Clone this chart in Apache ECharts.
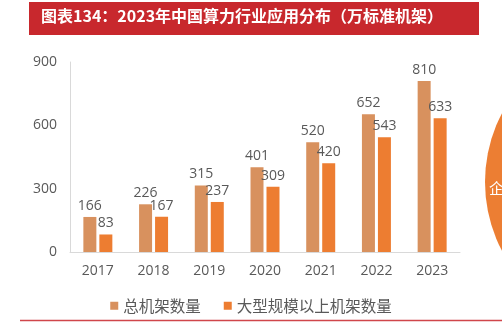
<!DOCTYPE html>
<html><head><meta charset="utf-8">
<script src="https://cdn.jsdelivr.net/npm/echarts@6/dist/echarts.min.js"></script>
<style>html,body{margin:0;padding:0;background:#fff}#c{width:502px;height:329px}</style>
</head><body><div id="c"></div>
<script>
const titleText = '图表134：2023年中国算力行业应用分布（万标准机架）';
const years = ['2017','2018','2019','2020','2021','2022','2023'];
const totalRacks = [166,226,315,401,520,652,810];
const largeRacks = [83,167,237,309,420,543,633];
const seriesNames = ['总机架数量','大型规模以上机架数量'];
const yTicks = {min:0, max:900, interval:300};

const chart = echarts.init(document.getElementById('c'), null, {renderer:'canvas'});
const fontNum = '"Open Sans","Noto Sans","Noto Sans CJK SC",sans-serif';
const fontCJK = '"Noto Sans CJK SC",sans-serif';
chart.setOption({
  animation:false,
  grid:{left:70,right:42,top:62,bottom:77},
  graphic:[
    {type:'rect',shape:{x:29,y:2,width:450,height:33},style:{fill:'#C8282D'},z:10},
    {type:'text',left:41,top:8,style:{text:titleText,fill:'#fff',font:'bold 16px "Noto Sans CJK SC",sans-serif'},z:11},
    {type:'circle',shape:{cx:633,cy:182,r:148},style:{fill:'#EC7E33'},z:5},
    {type:'text',left:489,top:181,style:{text:'企',fill:'#fff',font:'15px "Noto Sans CJK SC",sans-serif'},z:6},
    {type:'line',shape:{x1:20,y1:320.5,x2:502,y2:320.5},style:{stroke:'#D0464B',lineWidth:1.5},z:5}
  ],
  legend:{
    left:'center',top:293,itemWidth:8,itemHeight:8,itemGap:23,icon:'rect',
    textStyle:{color:'#595959',fontSize:15.5,fontFamily:fontCJK},
    data:seriesNames
  },
  xAxis:{
    type:'category',data:years,
    axisLine:{lineStyle:{color:'#D9D9D9'}},
    axisTick:{show:false},
    axisLabel:{color:'#595959',fontSize:14,fontFamily:fontNum,margin:12}
  },
  yAxis:{
    type:'value',min:yTicks.min,max:yTicks.max,interval:yTicks.interval,
    axisLine:{show:true,lineStyle:{color:'#D9D9D9'}},
    axisTick:{show:false},
    splitLine:{show:false},
    axisLabel:{color:'#595959',fontSize:14,fontFamily:fontNum,margin:13}
  },
  series:[
    {name:seriesNames[0],type:'bar',data:totalRacks,barWidth:13,barGap:'23%',
     itemStyle:{color:'#D8915E'},
     label:{show:true,position:'top',color:'#595959',fontSize:14,fontFamily:fontNum,distance:4}},
    {name:seriesNames[1],type:'bar',data:largeRacks,barWidth:13,
     itemStyle:{color:'#ED7D31'},
     label:{show:true,position:'top',color:'#595959',fontSize:14,fontFamily:fontNum,distance:4}}
  ]
});
</script></body></html>
